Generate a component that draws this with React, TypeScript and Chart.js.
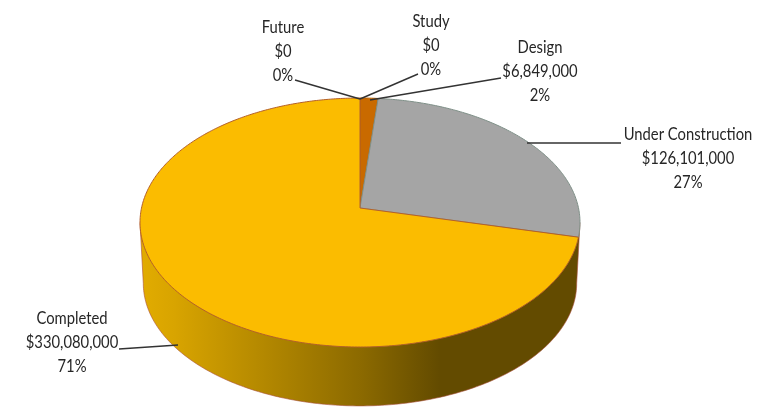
import React, { useEffect, useRef } from "react";
import { Chart, registerables } from "chart.js";

Chart.register(...registerables);

const categories = ["Future", "Study", "Design", "Under Construction", "Completed"];
const amounts = [0, 0, 6849000, 126101000, 330080000];
const percents = [0, 0, 2, 27, 71];
const sliceColors = ["#9E480E", "#4472C4", "#C96A00", "#A5A5A5", "#FBBC00"];
const sliceEdges = ["#9E480E", "#4472C4", "#B86000", "#7F9088", "#B4602A"];

// Label layout, in the same order as the categories: text centre, first line, leader line
const labelCentersX = [283, 431, 540, 688, 72];
const labelTopsY = [28, 22, 48, 135, 319];
const leaderLines = [
  [295, 80, 360, 99],
  [418, 74, 360, 99],
  [501, 78, 370, 100],
  [621, 143, 527, 143],
  [119, 349, 178, 345],
];

// Tilt of the disc
const PERSPECTIVE = 0.1166;
const SQUASH = 0.562;
const WALL_DROP = 61;
const WALL_SCALE = 0.985;

function project(cx: number, cy: number, r: number, angle: number, scale = 1, drop = 0) {
  const X = Math.cos(angle);
  const Y = Math.sin(angle);
  const w = 1 - PERSPECTIVE * Y;
  return {
    x: cx + (scale * r * X) / w,
    y: cy + drop + (scale * SQUASH * r * Y) / w,
  };
}

const discPlugin = {
  id: "disc3d",
  beforeDatasetDraw(chart: any) {
    const ctx: CanvasRenderingContext2D = chart.ctx;
    const arcs = chart.getDatasetMeta(0).data;
    const cx = arcs[0].x;
    const cy = arcs[0].y;
    const r = arcs[0].outerRadius;

    // Extreme angles of the projected ellipse
    const leftA = Math.PI - Math.asin(PERSPECTIVE);
    const rightA = Math.asin(PERSPECTIVE);

    // Side wall
    const grad = ctx.createLinearGradient(cx - r * 1.01, 0, cx + r * 1.01, 0);
    grad.addColorStop(0, "#E2AC00");
    grad.addColorStop(0.08, "#D8A400");
    grad.addColorStop(0.5, "#8C6A00");
    grad.addColorStop(0.68, "#634B00");
    grad.addColorStop(1, "#634B00");
    ctx.save();
    ctx.beginPath();
    const tl = project(cx, cy, r, leftA);
    ctx.moveTo(tl.x, tl.y);
    const steps = 200;
    for (let i = 0; i <= steps; i++) {
      const a = leftA + ((rightA - leftA) * i) / steps;
      const p = project(cx, cy, r, a, WALL_SCALE, WALL_DROP);
      ctx.lineTo(p.x, p.y);
    }
    const tr = project(cx, cy, r, rightA);
    ctx.lineTo(tr.x, tr.y);
    ctx.closePath();
    ctx.fillStyle = grad;
    ctx.fill();
    ctx.strokeStyle = "rgba(170,80,60,0.6)";
    ctx.lineWidth = 1;
    ctx.stroke();

    // Top face, drawn from the library's arc elements
    arcs.forEach((arc: any) => {
      const span = arc.endAngle - arc.startAngle;
      if (span <= 0) return;
      ctx.beginPath();
      ctx.moveTo(cx, cy);
      const n = Math.max(4, Math.ceil(span * 80));
      for (let i = 0; i <= n; i++) {
        const p = project(cx, cy, r, arc.startAngle + (span * i) / n);
        ctx.lineTo(p.x, p.y);
      }
      ctx.closePath();
      ctx.fillStyle = arc.options.backgroundColor;
      ctx.fill();
      ctx.strokeStyle = arc.options.borderColor;
      ctx.lineWidth = arc.options.borderWidth;
      ctx.stroke();
    });
    ctx.restore();
    return false;
  },
  afterDraw(chart: any) {
    const ctx: CanvasRenderingContext2D = chart.ctx;
    ctx.save();
    ctx.strokeStyle = "#333333";
    ctx.lineWidth = 1.4;
    leaderLines.forEach(([x1, y1, x2, y2]) => {
      ctx.beginPath();
      ctx.moveTo(x1, y1);
      ctx.lineTo(x2, y2);
      ctx.stroke();
    });
    ctx.font = "17px Lato";
    ctx.fillStyle = "#262626";
    ctx.textAlign = "center";
    ctx.textBaseline = "middle";
    categories.forEach((name, i) => {
      const lines = [name, "$" + amounts[i].toLocaleString("en-US"), percents[i] + "%"];
      lines.forEach((line, j) => {
        ctx.save();
        ctx.translate(labelCentersX[i], labelTopsY[i] + j * 24);
        ctx.scale(0.87, 1);
        ctx.fillText(line, 0, 0);
        ctx.restore();
      });
    });
    ctx.restore();
  },
};

export default function App() {
  const ref = useRef<HTMLCanvasElement>(null);
  useEffect(() => {
    const chart = new Chart(ref.current as HTMLCanvasElement, {
      type: "pie",
      data: {
        labels: categories,
        datasets: [
          {
            data: amounts,
            backgroundColor: sliceColors,
            borderColor: sliceEdges,
            borderWidth: 1,
            radius: 218.5,
          } as any,
        ],
      },
      options: {
        responsive: false,
        animation: false,
        layout: { padding: { right: 64, top: 9 } },
        plugins: { legend: { display: false }, tooltip: { enabled: false } },
      },
      plugins: [discPlugin as any],
    });
    return () => chart.destroy();
  }, []);
  return (
    <div style={{ position: "fixed", left: 0, top: 0, background: "#fff" }}>
      <canvas ref={ref} width={784} height={407} style={{ display: "block" }} />
    </div>
  );
}
